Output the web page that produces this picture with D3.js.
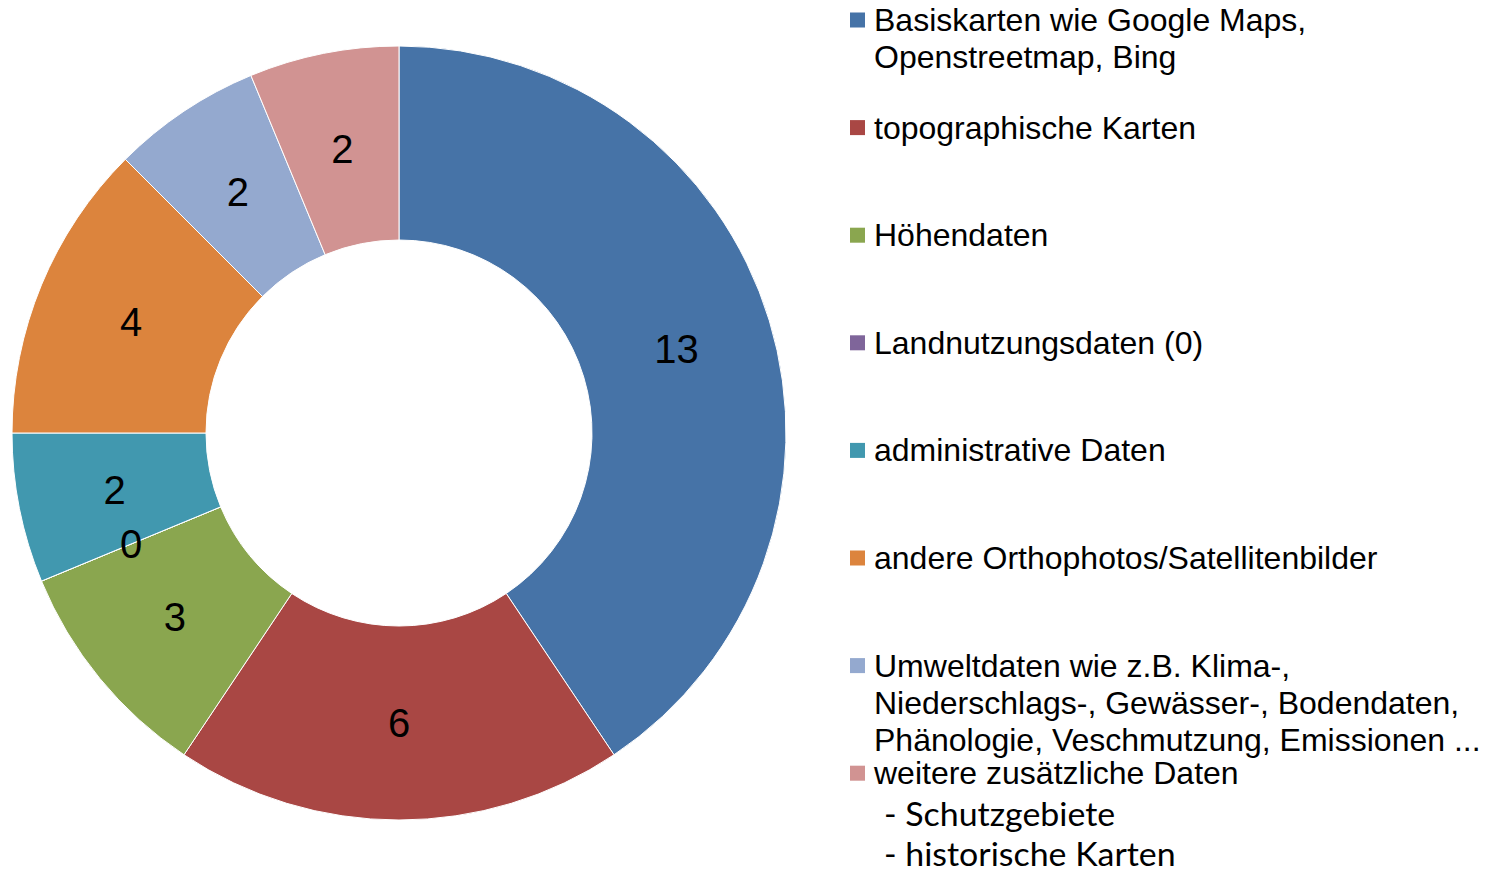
<!DOCTYPE html>
<html><head><meta charset="utf-8">
<script src="https://cdn.jsdelivr.net/npm/d3@7"></script>
<style>html,body{margin:0;padding:0;background:#fff;}</style>
</head><body>
<svg id="chart" width="1495" height="873"></svg>
<script>
const categories = [
  ["Basiskarten wie Google Maps,", "Openstreetmap, Bing"],
  ["topographische Karten"],
  ["Höhendaten"],
  ["Landnutzungsdaten (0)"],
  ["administrative Daten"],
  ["andere Orthophotos/Satellitenbilder"],
  ["Umweltdaten wie z.B. Klima-,", "Niederschlags-, Gewässer-, Bodendaten,", "Phänologie, Veschmutzung, Emissionen ..."],
  ["weitere zusätzliche Daten"]
];
const values = [13, 6, 3, 0, 2, 4, 2, 2];
const colors = ["#4673A7", "#A94744", "#8AA64F", "#7F659A", "#4198AF", "#DC843D", "#94A9CF", "#D19392"];
const extraLines = ["- Schutzgebiete", "- historische Karten"];

const svg = d3.select("#chart");
const cx = 399, cy = 433, rOuter = 387, rInner = 193;
const g = svg.append("g").attr("transform", `translate(${cx},${cy})`);

const pie = d3.pie().sort(null).value(d => d)(values);
const arc = d3.arc().innerRadius(rInner).outerRadius(rOuter);
const labelArc = d3.arc().innerRadius((rInner + rOuter) / 2).outerRadius((rInner + rOuter) / 2);

g.selectAll("path").data(pie).join("path")
  .attr("d", arc)
  .attr("fill", (d, i) => colors[i])
  .attr("stroke", "#fff")
  .attr("stroke-width", 1);

g.selectAll("text.lbl").data(pie).join("text")
  .attr("class", "lbl")
  .attr("transform", d => `translate(${labelArc.centroid(d)})`)
  .attr("text-anchor", "middle")
  .attr("dy", "0.36em")
  .attr("font-family", "Liberation Sans, Arial, sans-serif")
  .attr("font-size", 40)
  .attr("fill", "#000")
  .text(d => d.data);

// Legend
const lx = 850, tx = 874, firstBase = 31, step = 107.6, lineH = 37;
const leg = svg.append("g");
categories.forEach((lines, i) => {
  const base = firstBase + i * step;
  leg.append("rect")
    .attr("x", lx).attr("y", base - 18.5)
    .attr("width", 15).attr("height", 15)
    .attr("fill", colors[i]);
  const t = leg.append("text")
    .attr("font-family", "Liberation Sans, Arial, sans-serif")
    .attr("font-size", 32)
    .attr("fill", "#000");
  lines.forEach((ln, j) => {
    t.append("tspan").attr("x", tx).attr("y", base + j * lineH).text(ln);
  });
});
const extraBase = [826, 866];
extraLines.forEach((ln, j) => {
  leg.append("text")
    .attr("transform", `translate(884,${extraBase[j]}) scale(1.06,1)`)
    .attr("font-family", "Lato, sans-serif")
    .attr("font-size", 32)
    .attr("fill", "#000")
    .text(ln);
});
</script>
</body></html>
